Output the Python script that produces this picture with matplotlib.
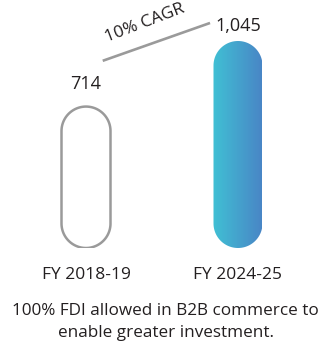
import numpy as np
import matplotlib
matplotlib.use('Agg')
import matplotlib.pyplot as plt
from matplotlib.patches import Polygon

plt.rcParams['font.family'] = ['Open Sans', 'DejaVu Sans']

# dados
anos = ['FY 2018-19', 'FY 2024-25']
valores = [714, 1045]
rotulos = ['714', '1,045']
cagr = '10% CAGR'
legenda = ['100% FDI allowed in B2B commerce to', 'enable greater investment.']

cor_texto = '#231f20'

# tamanho da figura em pixels
W, H = 331, 344
fig = plt.figure(figsize=(W / 100, H / 100), dpi=100)

# eixo principal: base das barras em y=248 px
base_px = 248
ax = fig.add_axes([0, (H - base_px) / H, 1, base_px / H])
px_por_unid_y = 207 / 1045
px_por_unid_x = 152
ax.axis('off')

larg = 49 / px_por_unid_x
# raio das pontas em unidades de x e de y (meia largura)
rx = larg / 2
ry = 24.5 / px_por_unid_y


def pilula(xc, v):
    # contorno em forma de pilula: semicirculos em cima e embaixo
    t = np.linspace(0, np.pi, 60)
    topo = np.column_stack([xc + rx * np.cos(t), v - ry + ry * np.sin(t)])
    fundo = np.column_stack([xc - rx * np.cos(t), ry - ry * np.sin(t)])
    return np.vstack([topo, fundo])


offsets = [10, 4]
for i, v in enumerate(valores):
    pts = pilula(i, v)
    if i == 0:
        p = Polygon(pts, closed=True, facecolor='none', edgecolor='#9a9a9a',
                    linewidth=1.8)
        ax.add_patch(p)
    else:
        p = Polygon(pts, closed=True, facecolor='none', edgecolor='none')
        ax.add_patch(p)
        grad = np.linspace(0, 1, 256).reshape(1, -1)
        cmap = matplotlib.colors.LinearSegmentedColormap.from_list(
            'g', ['#40c0d4', '#4986c6'])
        im = ax.imshow(grad, cmap=cmap, aspect='auto',
                       extent=(i - larg / 2, i + larg / 2, 0, v), zorder=2)
        im.set_clip_path(p)
    ax.annotate(rotulos[i], (i, v), xytext=(0, offsets[i]),
                textcoords='offset points', ha='center', va='bottom',
                fontsize=13, color=cor_texto)
    ax.annotate(anos[i], (i, 0), xytext=(0, -13.5), textcoords='offset points',
                ha='center', va='top', fontsize=12.5, color=cor_texto)

ax.set_xlim(-86 / px_por_unid_x, 1 + (W - 238) / px_por_unid_x)
ax.set_ylim(0, base_px / px_por_unid_y)

# linha de crescimento
ax.plot([0.11, 0.816], [945, 1136], color='#9a9a9a', lw=1.9,
        solid_capstyle='butt')
ax.text(0.385, 1135, cagr, rotation=21, ha='center', va='center',
        fontsize=12.5, color=cor_texto)

fig.text(0.5, 1 - 311 / H, legenda[0], ha='center',
         va='center', fontsize=12.3, color=cor_texto)
fig.text(0.5, 1 - 333 / H, legenda[1], ha='center',
         va='center', fontsize=12.3, color=cor_texto)

fig.savefig('out.png', dpi=100)
